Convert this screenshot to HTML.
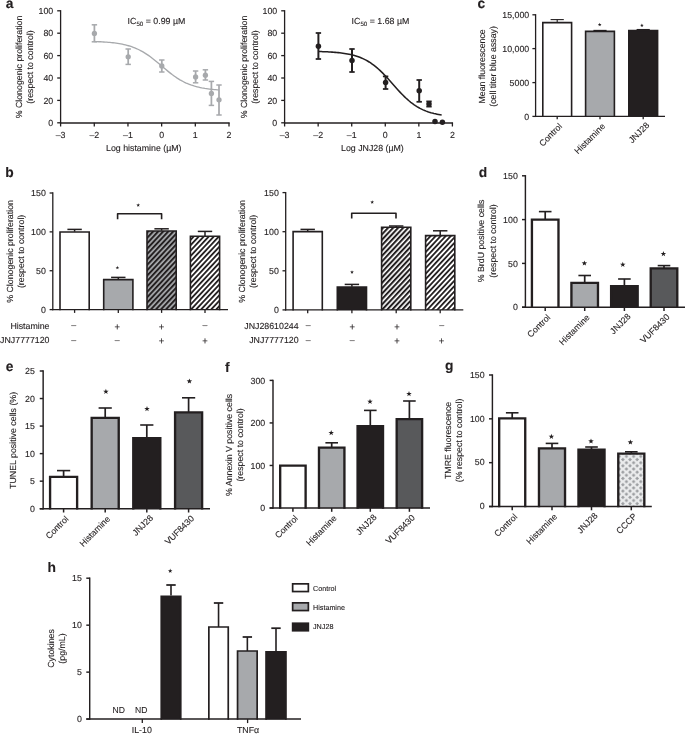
<!DOCTYPE html>
<html lang="en">
<head>
<meta charset="utf-8">
<title>Figure</title>
<style>
html,body{margin:0;padding:0;background:#fff;}
body{width:685px;height:734px;overflow:hidden;font-family:"Liberation Sans",sans-serif;}
svg{display:block;will-change:transform;}
svg text{font-family:"Liberation Sans",sans-serif;text-rendering:geometricPrecision;stroke:#231f20;stroke-width:0.12px;}
</style>
</head>
<body>
<svg width="685" height="734" viewBox="0 0 685 734">
<rect width="685" height="734" fill="#fff"/>
<defs>
<pattern id="hG" patternUnits="userSpaceOnUse" width="3.68" height="3.68" patternTransform="rotate(-47)"><rect width="3.68" height="3.68" fill="#a7a9ac"/><rect x="0" y="0" width="3.68" height="1.95" fill="#231f20"/></pattern>
<pattern id="hW" patternUnits="userSpaceOnUse" width="3.68" height="3.68" patternTransform="rotate(-47)"><rect width="3.68" height="3.68" fill="#fff"/><rect x="0" y="0" width="3.68" height="1.8" fill="#231f20"/></pattern>
<pattern id="hK" patternUnits="userSpaceOnUse" width="3.68" height="3.68" patternTransform="rotate(-47)"><rect width="3.68" height="3.68" fill="#fff"/><rect x="0" y="0" width="3.68" height="2.05" fill="#231f20"/></pattern>
<pattern id="dia" patternUnits="userSpaceOnUse" width="7.15" height="6.3" x="619.3" y="456.0"><rect width="7.15" height="6.3" fill="#ebeced"/><path d="M-1.85 0.00L0.00 -1.85L1.85 0.00L0.00 1.85ZM5.30 0.00L7.15 -1.85L9.00 0.00L7.15 1.85ZM-1.85 6.30L0.00 4.45L1.85 6.30L0.00 8.15ZM5.30 6.30L7.15 4.45L9.00 6.30L7.15 8.15ZM1.73 3.15L3.58 1.30L5.43 3.15L3.58 5.00Z" fill="#9c9ea1"/></pattern>
</defs>
<g transform="translate(0,0.4)">
<text x="5.80" y="7.60" font-size="13.8" text-anchor="start" font-weight="bold" fill="#231f20">a</text>
<line x1="60.60" y1="9.75" x2="60.60" y2="123.05" stroke="#231f20" stroke-width="1.3" stroke-linecap="butt"/>
<line x1="57.20" y1="122.40" x2="60.60" y2="122.40" stroke="#231f20" stroke-width="1.3" stroke-linecap="butt"/>
<text x="53.20" y="125.55" font-size="8.8" text-anchor="end" fill="#231f20">0</text>
<line x1="57.20" y1="100.00" x2="60.60" y2="100.00" stroke="#231f20" stroke-width="1.3" stroke-linecap="butt"/>
<text x="53.20" y="103.15" font-size="8.8" text-anchor="end" fill="#231f20">20</text>
<line x1="57.20" y1="77.60" x2="60.60" y2="77.60" stroke="#231f20" stroke-width="1.3" stroke-linecap="butt"/>
<text x="53.20" y="80.75" font-size="8.8" text-anchor="end" fill="#231f20">40</text>
<line x1="57.20" y1="55.20" x2="60.60" y2="55.20" stroke="#231f20" stroke-width="1.3" stroke-linecap="butt"/>
<text x="53.20" y="58.35" font-size="8.8" text-anchor="end" fill="#231f20">60</text>
<line x1="57.20" y1="32.80" x2="60.60" y2="32.80" stroke="#231f20" stroke-width="1.3" stroke-linecap="butt"/>
<text x="53.20" y="35.95" font-size="8.8" text-anchor="end" fill="#231f20">80</text>
<line x1="57.20" y1="10.40" x2="60.60" y2="10.40" stroke="#231f20" stroke-width="1.3" stroke-linecap="butt"/>
<text x="53.20" y="13.55" font-size="8.8" text-anchor="end" fill="#231f20">100</text>
<line x1="59.95" y1="122.55" x2="229.65" y2="122.55" stroke="#231f20" stroke-width="1.5" stroke-linecap="butt"/>
<line x1="60.60" y1="122.40" x2="60.60" y2="126.10" stroke="#231f20" stroke-width="1.3" stroke-linecap="butt"/>
<text x="60.60" y="137.15" font-size="8.8" text-anchor="middle" fill="#231f20">–3</text>
<line x1="94.28" y1="122.40" x2="94.28" y2="126.10" stroke="#231f20" stroke-width="1.3" stroke-linecap="butt"/>
<text x="94.28" y="137.15" font-size="8.8" text-anchor="middle" fill="#231f20">–2</text>
<line x1="127.96" y1="122.40" x2="127.96" y2="126.10" stroke="#231f20" stroke-width="1.3" stroke-linecap="butt"/>
<text x="127.96" y="137.15" font-size="8.8" text-anchor="middle" fill="#231f20">–1</text>
<line x1="161.64" y1="122.40" x2="161.64" y2="126.10" stroke="#231f20" stroke-width="1.3" stroke-linecap="butt"/>
<text x="161.64" y="137.15" font-size="8.8" text-anchor="middle" fill="#231f20">0</text>
<line x1="195.32" y1="122.40" x2="195.32" y2="126.10" stroke="#231f20" stroke-width="1.3" stroke-linecap="butt"/>
<text x="195.32" y="137.15" font-size="8.8" text-anchor="middle" fill="#231f20">1</text>
<line x1="229.00" y1="122.40" x2="229.00" y2="126.10" stroke="#231f20" stroke-width="1.3" stroke-linecap="butt"/>
<text x="229.00" y="137.15" font-size="8.8" text-anchor="middle" fill="#231f20">2</text>
<text x="22.00" y="66.60" font-size="8.8" text-anchor="middle" fill="#231f20" transform="rotate(-90 22.00 66.60)">% Clonogenic proliferation</text>
<text x="32.80" y="66.60" font-size="8.8" text-anchor="middle" fill="#231f20" transform="rotate(-90 32.80 66.60)">(respect to control)</text>
<text x="143.80" y="150.30" font-size="8.8" text-anchor="middle" fill="#231f20">Log histamine (µM)</text>
<text x="127.60" y="23.2" font-size="8.8" fill="#231f20">IC<tspan font-size="6.2" dy="2.3">50</tspan><tspan dy="-2.3"> = 0.99 µM</tspan></text>
<path d="M94.28 41.13L95.84 41.19L97.40 41.25L98.95 41.32L100.51 41.39L102.07 41.47L103.63 41.57L105.18 41.67L106.74 41.78L108.30 41.91L109.86 42.04L111.41 42.20L112.97 42.37L114.53 42.55L116.09 42.76L117.65 42.99L119.20 43.24L120.76 43.51L122.32 43.81L123.88 44.14L125.43 44.51L126.99 44.91L128.55 45.34L130.11 45.81L131.66 46.33L133.22 46.89L134.78 47.49L136.34 48.15L137.90 48.85L139.45 49.61L141.01 50.42L142.57 51.28L144.13 52.20L145.68 53.17L147.24 54.20L148.80 55.27L150.36 56.40L151.91 57.57L153.47 58.78L155.03 60.02L156.59 61.30L158.15 62.60L159.70 63.91L161.26 65.24L162.82 66.56L164.38 67.88L165.93 69.19L167.49 70.48L169.05 71.74L170.61 72.97L172.16 74.16L173.72 75.30L175.28 76.40L176.84 77.46L178.40 78.45L179.95 79.40L181.51 80.29L183.07 81.12L184.63 81.91L186.18 82.64L187.74 83.32L189.30 83.94L190.86 84.53L192.42 85.06L193.97 85.56L195.53 86.01L197.09 86.42L198.65 86.80L200.20 87.15L201.76 87.47L203.32 87.75L204.88 88.02L206.43 88.25L207.99 88.47L209.55 88.66L211.11 88.84L212.67 89.00L214.22 89.15L215.78 89.28L217.34 89.40L218.90 89.51" fill="none" stroke="#a7a9ac" stroke-width="1.35"/>
<line x1="94.40" y1="24.40" x2="94.40" y2="41.40" stroke="#a7a9ac" stroke-width="1.75" stroke-linecap="butt"/>
<line x1="91.70" y1="24.40" x2="97.10" y2="24.40" stroke="#a7a9ac" stroke-width="1.5" stroke-linecap="butt"/>
<line x1="91.70" y1="41.40" x2="97.10" y2="41.40" stroke="#a7a9ac" stroke-width="1.5" stroke-linecap="butt"/>
<circle cx="94.40" cy="33.00" r="2.65" fill="#a7a9ac"/>
<line x1="128.20" y1="48.60" x2="128.20" y2="64.00" stroke="#a7a9ac" stroke-width="1.75" stroke-linecap="butt"/>
<line x1="125.50" y1="48.60" x2="130.90" y2="48.60" stroke="#a7a9ac" stroke-width="1.5" stroke-linecap="butt"/>
<line x1="125.50" y1="64.00" x2="130.90" y2="64.00" stroke="#a7a9ac" stroke-width="1.5" stroke-linecap="butt"/>
<circle cx="128.20" cy="56.40" r="2.65" fill="#a7a9ac"/>
<line x1="161.80" y1="59.60" x2="161.80" y2="71.60" stroke="#a7a9ac" stroke-width="1.75" stroke-linecap="butt"/>
<line x1="159.10" y1="59.60" x2="164.50" y2="59.60" stroke="#a7a9ac" stroke-width="1.5" stroke-linecap="butt"/>
<line x1="159.10" y1="71.60" x2="164.50" y2="71.60" stroke="#a7a9ac" stroke-width="1.5" stroke-linecap="butt"/>
<circle cx="161.80" cy="65.60" r="2.65" fill="#a7a9ac"/>
<line x1="195.60" y1="70.60" x2="195.60" y2="82.40" stroke="#a7a9ac" stroke-width="1.75" stroke-linecap="butt"/>
<line x1="192.90" y1="70.60" x2="198.30" y2="70.60" stroke="#a7a9ac" stroke-width="1.5" stroke-linecap="butt"/>
<line x1="192.90" y1="82.40" x2="198.30" y2="82.40" stroke="#a7a9ac" stroke-width="1.5" stroke-linecap="butt"/>
<circle cx="195.60" cy="76.60" r="2.65" fill="#a7a9ac"/>
<line x1="205.40" y1="69.40" x2="205.40" y2="79.60" stroke="#a7a9ac" stroke-width="1.75" stroke-linecap="butt"/>
<line x1="202.70" y1="69.40" x2="208.10" y2="69.40" stroke="#a7a9ac" stroke-width="1.5" stroke-linecap="butt"/>
<line x1="202.70" y1="79.60" x2="208.10" y2="79.60" stroke="#a7a9ac" stroke-width="1.5" stroke-linecap="butt"/>
<circle cx="205.40" cy="74.80" r="2.65" fill="#a7a9ac"/>
<line x1="211.40" y1="81.00" x2="211.40" y2="105.00" stroke="#a7a9ac" stroke-width="1.75" stroke-linecap="butt"/>
<line x1="208.70" y1="81.00" x2="214.10" y2="81.00" stroke="#a7a9ac" stroke-width="1.5" stroke-linecap="butt"/>
<line x1="208.70" y1="105.00" x2="214.10" y2="105.00" stroke="#a7a9ac" stroke-width="1.5" stroke-linecap="butt"/>
<circle cx="211.40" cy="93.00" r="2.65" fill="#a7a9ac"/>
<line x1="219.00" y1="84.60" x2="219.00" y2="114.60" stroke="#a7a9ac" stroke-width="1.75" stroke-linecap="butt"/>
<line x1="216.30" y1="84.60" x2="221.70" y2="84.60" stroke="#a7a9ac" stroke-width="1.5" stroke-linecap="butt"/>
<line x1="216.30" y1="114.60" x2="221.70" y2="114.60" stroke="#a7a9ac" stroke-width="1.5" stroke-linecap="butt"/>
<circle cx="219.00" cy="99.40" r="2.65" fill="#a7a9ac"/>
<line x1="284.60" y1="9.75" x2="284.60" y2="123.05" stroke="#231f20" stroke-width="1.3" stroke-linecap="butt"/>
<line x1="281.20" y1="122.40" x2="284.60" y2="122.40" stroke="#231f20" stroke-width="1.3" stroke-linecap="butt"/>
<text x="277.20" y="125.55" font-size="8.8" text-anchor="end" fill="#231f20">0</text>
<line x1="281.20" y1="100.00" x2="284.60" y2="100.00" stroke="#231f20" stroke-width="1.3" stroke-linecap="butt"/>
<text x="277.20" y="103.15" font-size="8.8" text-anchor="end" fill="#231f20">20</text>
<line x1="281.20" y1="77.60" x2="284.60" y2="77.60" stroke="#231f20" stroke-width="1.3" stroke-linecap="butt"/>
<text x="277.20" y="80.75" font-size="8.8" text-anchor="end" fill="#231f20">40</text>
<line x1="281.20" y1="55.20" x2="284.60" y2="55.20" stroke="#231f20" stroke-width="1.3" stroke-linecap="butt"/>
<text x="277.20" y="58.35" font-size="8.8" text-anchor="end" fill="#231f20">60</text>
<line x1="281.20" y1="32.80" x2="284.60" y2="32.80" stroke="#231f20" stroke-width="1.3" stroke-linecap="butt"/>
<text x="277.20" y="35.95" font-size="8.8" text-anchor="end" fill="#231f20">80</text>
<line x1="281.20" y1="10.40" x2="284.60" y2="10.40" stroke="#231f20" stroke-width="1.3" stroke-linecap="butt"/>
<text x="277.20" y="13.55" font-size="8.8" text-anchor="end" fill="#231f20">100</text>
<line x1="283.95" y1="122.55" x2="453.05" y2="122.55" stroke="#231f20" stroke-width="1.5" stroke-linecap="butt"/>
<line x1="284.60" y1="122.40" x2="284.60" y2="126.10" stroke="#231f20" stroke-width="1.3" stroke-linecap="butt"/>
<text x="284.60" y="137.15" font-size="8.8" text-anchor="middle" fill="#231f20">–3</text>
<line x1="318.16" y1="122.40" x2="318.16" y2="126.10" stroke="#231f20" stroke-width="1.3" stroke-linecap="butt"/>
<text x="318.16" y="137.15" font-size="8.8" text-anchor="middle" fill="#231f20">–2</text>
<line x1="351.72" y1="122.40" x2="351.72" y2="126.10" stroke="#231f20" stroke-width="1.3" stroke-linecap="butt"/>
<text x="351.72" y="137.15" font-size="8.8" text-anchor="middle" fill="#231f20">–1</text>
<line x1="385.28" y1="122.40" x2="385.28" y2="126.10" stroke="#231f20" stroke-width="1.3" stroke-linecap="butt"/>
<text x="385.28" y="137.15" font-size="8.8" text-anchor="middle" fill="#231f20">0</text>
<line x1="418.84" y1="122.40" x2="418.84" y2="126.10" stroke="#231f20" stroke-width="1.3" stroke-linecap="butt"/>
<text x="418.84" y="137.15" font-size="8.8" text-anchor="middle" fill="#231f20">1</text>
<line x1="452.40" y1="122.40" x2="452.40" y2="126.10" stroke="#231f20" stroke-width="1.3" stroke-linecap="butt"/>
<text x="452.40" y="137.15" font-size="8.8" text-anchor="middle" fill="#231f20">2</text>
<text x="246.80" y="66.60" font-size="8.8" text-anchor="middle" fill="#231f20" transform="rotate(-90 246.80 66.60)">% Clonogenic proliferation</text>
<text x="257.60" y="66.60" font-size="8.8" text-anchor="middle" fill="#231f20" transform="rotate(-90 257.60 66.60)">(respect to control)</text>
<text x="372.40" y="150.30" font-size="8.8" text-anchor="middle" fill="#231f20">Log JNJ28 (µM)</text>
<text x="351.60" y="23.2" font-size="8.8" fill="#231f20">IC<tspan font-size="6.2" dy="2.3">50</tspan><tspan dy="-2.3"> = 1.68 µM</tspan></text>
<path d="M318.16 51.11L319.70 51.15L321.25 51.20L322.79 51.26L324.34 51.32L325.88 51.38L327.42 51.45L328.97 51.54L330.51 51.63L332.05 51.73L333.60 51.84L335.14 51.96L336.69 52.09L338.23 52.24L339.77 52.41L341.32 52.59L342.86 52.80L344.40 53.02L345.95 53.27L347.49 53.54L349.04 53.84L350.58 54.17L352.12 54.53L353.67 54.93L355.21 55.37L356.75 55.85L358.30 56.37L359.84 56.94L361.39 57.57L362.93 58.25L364.47 58.98L366.02 59.78L367.56 60.64L369.10 61.56L370.65 62.56L372.19 63.62L373.74 64.76L375.28 65.97L376.82 67.24L378.37 68.59L379.91 70.00L381.45 71.48L383.00 73.02L384.54 74.61L386.09 76.25L387.63 77.93L389.17 79.64L390.72 81.37L392.26 83.11L393.80 84.86L395.35 86.61L396.89 88.33L398.44 90.04L399.98 91.70L401.52 93.33L403.07 94.91L404.61 96.43L406.15 97.89L407.70 99.29L409.24 100.62L410.79 101.88L412.33 103.06L413.87 104.18L415.42 105.23L416.96 106.20L418.50 107.11L420.05 107.96L421.59 108.74L423.14 109.46L424.68 110.12L426.22 110.73L427.77 111.29L429.31 111.80L430.85 112.27L432.40 112.70L433.94 113.09L435.49 113.44L437.03 113.76L438.57 114.05L440.12 114.32L441.66 114.56" fill="none" stroke="#231f20" stroke-width="1.55"/>
<line x1="318.40" y1="32.60" x2="318.40" y2="58.60" stroke="#231f20" stroke-width="2.0" stroke-linecap="butt"/>
<line x1="315.70" y1="32.60" x2="321.10" y2="32.60" stroke="#231f20" stroke-width="1.75" stroke-linecap="butt"/>
<line x1="315.70" y1="58.60" x2="321.10" y2="58.60" stroke="#231f20" stroke-width="1.75" stroke-linecap="butt"/>
<circle cx="318.40" cy="45.80" r="2.75" fill="#231f20"/>
<line x1="352.00" y1="48.60" x2="352.00" y2="71.60" stroke="#231f20" stroke-width="2.0" stroke-linecap="butt"/>
<line x1="349.30" y1="48.60" x2="354.70" y2="48.60" stroke="#231f20" stroke-width="1.75" stroke-linecap="butt"/>
<line x1="349.30" y1="71.60" x2="354.70" y2="71.60" stroke="#231f20" stroke-width="1.75" stroke-linecap="butt"/>
<circle cx="352.00" cy="60.00" r="2.75" fill="#231f20"/>
<line x1="385.60" y1="76.00" x2="385.60" y2="88.60" stroke="#231f20" stroke-width="2.0" stroke-linecap="butt"/>
<line x1="382.90" y1="76.00" x2="388.30" y2="76.00" stroke="#231f20" stroke-width="1.75" stroke-linecap="butt"/>
<line x1="382.90" y1="88.60" x2="388.30" y2="88.60" stroke="#231f20" stroke-width="1.75" stroke-linecap="butt"/>
<circle cx="385.60" cy="82.00" r="2.75" fill="#231f20"/>
<line x1="419.20" y1="79.60" x2="419.20" y2="101.40" stroke="#231f20" stroke-width="2.0" stroke-linecap="butt"/>
<line x1="416.50" y1="79.60" x2="421.90" y2="79.60" stroke="#231f20" stroke-width="1.75" stroke-linecap="butt"/>
<line x1="416.50" y1="101.40" x2="421.90" y2="101.40" stroke="#231f20" stroke-width="1.75" stroke-linecap="butt"/>
<circle cx="419.20" cy="90.40" r="2.75" fill="#231f20"/>
<line x1="429.00" y1="101.00" x2="429.00" y2="106.20" stroke="#231f20" stroke-width="2.0" stroke-linecap="butt"/>
<line x1="426.30" y1="101.00" x2="431.70" y2="101.00" stroke="#231f20" stroke-width="1.75" stroke-linecap="butt"/>
<line x1="426.30" y1="106.20" x2="431.70" y2="106.20" stroke="#231f20" stroke-width="1.75" stroke-linecap="butt"/>
<circle cx="429.00" cy="103.60" r="2.75" fill="#231f20"/>
<circle cx="435.00" cy="121.00" r="2.75" fill="#231f20"/>
<circle cx="442.40" cy="121.80" r="2.75" fill="#231f20"/>
</g>
<g transform="translate(0,0.4)">
<text x="477.60" y="7.60" font-size="13.8" text-anchor="start" font-weight="bold" fill="#231f20">c</text>
<line x1="535.60" y1="13.75" x2="535.60" y2="116.65" stroke="#231f20" stroke-width="1.3" stroke-linecap="butt"/>
<line x1="532.40" y1="116.00" x2="535.60" y2="116.00" stroke="#231f20" stroke-width="1.3" stroke-linecap="butt"/>
<text x="529.20" y="119.15" font-size="8.8" text-anchor="end" fill="#231f20">0</text>
<line x1="532.40" y1="82.20" x2="535.60" y2="82.20" stroke="#231f20" stroke-width="1.3" stroke-linecap="butt"/>
<text x="529.20" y="85.35" font-size="8.8" text-anchor="end" fill="#231f20">5000</text>
<line x1="532.40" y1="48.20" x2="535.60" y2="48.20" stroke="#231f20" stroke-width="1.3" stroke-linecap="butt"/>
<text x="529.20" y="51.35" font-size="8.8" text-anchor="end" fill="#231f20">10,000</text>
<line x1="532.40" y1="14.40" x2="535.60" y2="14.40" stroke="#231f20" stroke-width="1.3" stroke-linecap="butt"/>
<text x="529.20" y="17.55" font-size="8.8" text-anchor="end" fill="#231f20">15,000</text>
<text x="484.60" y="66.00" font-size="8.8" text-anchor="middle" fill="#231f20" transform="rotate(-90 484.60 66.00)">Mean fluorescence</text>
<text x="495.80" y="66.00" font-size="8.8" text-anchor="middle" fill="#231f20" transform="rotate(-90 495.80 66.00)">(cell titer blue assay)</text>
<line x1="557.20" y1="19.20" x2="557.20" y2="21.90" stroke="#231f20" stroke-width="1.1" stroke-linecap="butt"/>
<line x1="550.60" y1="19.20" x2="563.80" y2="19.20" stroke="#231f20" stroke-width="1.1" stroke-linecap="butt"/>
<line x1="593.40" y1="30.10" x2="606.60" y2="30.10" stroke="#231f20" stroke-width="1.3" stroke-linecap="butt"/>
<line x1="636.60" y1="29.20" x2="649.80" y2="29.20" stroke="#231f20" stroke-width="1.3" stroke-linecap="butt"/>
<rect x="542.80" y="22.20" width="28.80" height="93.95" fill="#fff"/>
<path d="M542.80 116.65V22.20H571.60V116.65" fill="none" stroke="#231f20" stroke-width="1.6" stroke-linejoin="miter"/>
<line x1="557.20" y1="116.00" x2="557.20" y2="118.80" stroke="#231f20" stroke-width="1.3" stroke-linecap="butt"/>
<rect x="585.60" y="31.00" width="28.80" height="85.15" fill="#a7a9ac"/>
<path d="M585.60 116.65V31.00H614.40V116.65" fill="none" stroke="#231f20" stroke-width="1.6" stroke-linejoin="miter"/>
<line x1="600.00" y1="116.00" x2="600.00" y2="118.80" stroke="#231f20" stroke-width="1.3" stroke-linecap="butt"/>
<rect x="628.80" y="30.20" width="28.80" height="85.95" fill="#231f20"/>
<path d="M628.80 116.65V30.20H657.60V116.65" fill="none" stroke="#231f20" stroke-width="1.6" stroke-linejoin="miter"/>
<line x1="643.20" y1="116.00" x2="643.20" y2="118.80" stroke="#231f20" stroke-width="1.3" stroke-linecap="butt"/>
<line x1="534.95" y1="116.00" x2="665.00" y2="116.00" stroke="#231f20" stroke-width="1.3" stroke-linecap="butt"/>
<polygon points="599.70,22.38 600.15,23.67 601.51,23.69 600.42,24.52 600.82,25.82 599.70,25.04 598.58,25.82 598.98,24.52 597.89,23.69 599.25,23.67" fill="#231f20"/>
<polygon points="641.90,23.18 642.35,24.47 643.71,24.49 642.62,25.32 643.02,26.62 641.90,25.84 640.78,26.62 641.18,25.32 640.09,24.49 641.45,24.47" fill="#231f20"/>
<text x="562.70" y="126.50" font-size="8.8" text-anchor="end" fill="#231f20" transform="rotate(-45 562.70 126.50)">Control</text>
<text x="605.70" y="126.50" font-size="8.8" text-anchor="end" fill="#231f20" transform="rotate(-45 605.70 126.50)">Histamine</text>
<text x="649.90" y="125.50" font-size="8.8" text-anchor="end" fill="#231f20" transform="rotate(-45 649.90 125.50)">JNJ28</text>
</g>
<g transform="translate(0,0.4)">
<text x="5.20" y="176.20" font-size="13.8" text-anchor="start" font-weight="bold" fill="#231f20">b</text>
<line x1="52.80" y1="191.95" x2="52.80" y2="309.85" stroke="#231f20" stroke-width="1.3" stroke-linecap="butt"/>
<line x1="49.60" y1="309.20" x2="52.80" y2="309.20" stroke="#231f20" stroke-width="1.3" stroke-linecap="butt"/>
<text x="45.80" y="312.35" font-size="8.8" text-anchor="end" fill="#231f20">0</text>
<line x1="49.60" y1="270.33" x2="52.80" y2="270.33" stroke="#231f20" stroke-width="1.3" stroke-linecap="butt"/>
<text x="45.80" y="273.48" font-size="8.8" text-anchor="end" fill="#231f20">50</text>
<line x1="49.60" y1="231.47" x2="52.80" y2="231.47" stroke="#231f20" stroke-width="1.3" stroke-linecap="butt"/>
<text x="45.80" y="234.62" font-size="8.8" text-anchor="end" fill="#231f20">100</text>
<line x1="49.60" y1="192.60" x2="52.80" y2="192.60" stroke="#231f20" stroke-width="1.3" stroke-linecap="butt"/>
<text x="45.80" y="195.75" font-size="8.8" text-anchor="end" fill="#231f20">150</text>
<text x="12.80" y="251.00" font-size="8.8" text-anchor="middle" fill="#231f20" transform="rotate(-90 12.80 251.00)">% Clonogenic proliferation</text>
<text x="23.50" y="251.00" font-size="8.8" text-anchor="middle" fill="#231f20" transform="rotate(-90 23.50 251.00)">(respect to control)</text>
<line x1="74.60" y1="229.00" x2="74.60" y2="231.30" stroke="#231f20" stroke-width="1.5" stroke-linecap="butt"/>
<line x1="67.40" y1="229.00" x2="81.80" y2="229.00" stroke="#231f20" stroke-width="1.5" stroke-linecap="butt"/>
<rect x="60.00" y="231.60" width="29.20" height="77.75" fill="#fff"/>
<path d="M60.00 309.85V231.60H89.20V309.85" fill="none" stroke="#231f20" stroke-width="1.6" stroke-linejoin="miter"/>
<line x1="74.60" y1="309.20" x2="74.60" y2="312.50" stroke="#231f20" stroke-width="1.3" stroke-linecap="butt"/>
<line x1="118.30" y1="277.00" x2="118.30" y2="278.90" stroke="#231f20" stroke-width="1.5" stroke-linecap="butt"/>
<line x1="111.10" y1="277.00" x2="125.50" y2="277.00" stroke="#231f20" stroke-width="1.5" stroke-linecap="butt"/>
<rect x="103.70" y="279.20" width="29.20" height="30.15" fill="#a7a9ac"/>
<path d="M103.70 309.85V279.20H132.90V309.85" fill="none" stroke="#231f20" stroke-width="1.6" stroke-linejoin="miter"/>
<line x1="118.30" y1="309.20" x2="118.30" y2="312.50" stroke="#231f20" stroke-width="1.3" stroke-linecap="butt"/>
<line x1="161.60" y1="228.40" x2="161.60" y2="230.30" stroke="#231f20" stroke-width="1.5" stroke-linecap="butt"/>
<line x1="154.40" y1="228.40" x2="168.80" y2="228.40" stroke="#231f20" stroke-width="1.5" stroke-linecap="butt"/>
<rect x="147.00" y="230.60" width="29.20" height="78.75" fill="url(#hG)"/>
<path d="M147.00 309.85V230.60H176.20V309.85" fill="none" stroke="#231f20" stroke-width="1.6" stroke-linejoin="miter"/>
<line x1="161.60" y1="309.20" x2="161.60" y2="312.50" stroke="#231f20" stroke-width="1.3" stroke-linecap="butt"/>
<line x1="205.00" y1="231.00" x2="205.00" y2="235.50" stroke="#231f20" stroke-width="1.5" stroke-linecap="butt"/>
<line x1="197.80" y1="231.00" x2="212.20" y2="231.00" stroke="#231f20" stroke-width="1.5" stroke-linecap="butt"/>
<rect x="190.40" y="235.80" width="29.20" height="73.55" fill="url(#hW)"/>
<path d="M190.40 309.85V235.80H219.60V309.85" fill="none" stroke="#231f20" stroke-width="1.6" stroke-linejoin="miter"/>
<line x1="205.00" y1="309.20" x2="205.00" y2="312.50" stroke="#231f20" stroke-width="1.3" stroke-linecap="butt"/>
<line x1="52.15" y1="309.20" x2="228.00" y2="309.20" stroke="#231f20" stroke-width="1.3" stroke-linecap="butt"/>
<path d="M117.6 218.8V213.3H161.6V218.8" fill="none" stroke="#231f20" stroke-width="1.6" stroke-linejoin="round"/>
<polygon points="138.20,202.84 138.66,204.15 140.05,204.18 138.94,205.03 139.35,206.36 138.20,205.57 137.05,206.36 137.46,205.03 136.35,204.18 137.74,204.15" fill="#231f20"/>
<polygon points="117.40,265.44 117.86,266.75 119.25,266.78 118.14,267.63 118.55,268.96 117.40,268.17 116.25,268.96 116.66,267.63 115.55,266.78 116.94,266.75" fill="#231f20"/>
<text x="49.50" y="328.30" font-size="8.8" text-anchor="end" fill="#231f20">Histamine</text>
<text x="49.50" y="342.80" font-size="8.8" text-anchor="end" fill="#231f20">JNJ7777120</text>
<text x="73.60" y="328.00" font-size="8.8" text-anchor="middle" fill="#231f20">–</text>
<text x="73.60" y="342.30" font-size="8.8" text-anchor="middle" fill="#231f20">–</text>
<text x="117.30" y="329.30" font-size="9.4" text-anchor="middle" fill="#231f20">+</text>
<text x="117.30" y="342.30" font-size="8.8" text-anchor="middle" fill="#231f20">–</text>
<text x="161.50" y="329.30" font-size="9.4" text-anchor="middle" fill="#231f20">+</text>
<text x="161.50" y="343.60" font-size="9.4" text-anchor="middle" fill="#231f20">+</text>
<text x="205.00" y="328.00" font-size="8.8" text-anchor="middle" fill="#231f20">–</text>
<text x="205.00" y="343.60" font-size="9.4" text-anchor="middle" fill="#231f20">+</text>
<line x1="285.70" y1="191.55" x2="285.70" y2="310.15" stroke="#231f20" stroke-width="1.3" stroke-linecap="butt"/>
<line x1="282.50" y1="309.50" x2="285.70" y2="309.50" stroke="#231f20" stroke-width="1.3" stroke-linecap="butt"/>
<text x="278.80" y="312.65" font-size="8.8" text-anchor="end" fill="#231f20">0</text>
<line x1="282.50" y1="270.40" x2="285.70" y2="270.40" stroke="#231f20" stroke-width="1.3" stroke-linecap="butt"/>
<text x="278.80" y="273.55" font-size="8.8" text-anchor="end" fill="#231f20">50</text>
<line x1="282.50" y1="231.30" x2="285.70" y2="231.30" stroke="#231f20" stroke-width="1.3" stroke-linecap="butt"/>
<text x="278.80" y="234.45" font-size="8.8" text-anchor="end" fill="#231f20">100</text>
<line x1="282.50" y1="192.20" x2="285.70" y2="192.20" stroke="#231f20" stroke-width="1.3" stroke-linecap="butt"/>
<text x="278.80" y="195.35" font-size="8.8" text-anchor="end" fill="#231f20">150</text>
<text x="245.00" y="251.00" font-size="8.8" text-anchor="middle" fill="#231f20" transform="rotate(-90 245.00 251.00)">% Clonogenic proliferation</text>
<text x="256.40" y="251.00" font-size="8.8" text-anchor="middle" fill="#231f20" transform="rotate(-90 256.40 251.00)">(respect to control)</text>
<line x1="307.70" y1="229.00" x2="307.70" y2="230.90" stroke="#231f20" stroke-width="1.5" stroke-linecap="butt"/>
<line x1="300.50" y1="229.00" x2="314.90" y2="229.00" stroke="#231f20" stroke-width="1.5" stroke-linecap="butt"/>
<rect x="293.10" y="231.20" width="29.20" height="78.45" fill="#fff"/>
<path d="M293.10 310.15V231.20H322.30V310.15" fill="none" stroke="#231f20" stroke-width="1.6" stroke-linejoin="miter"/>
<line x1="307.70" y1="309.50" x2="307.70" y2="312.80" stroke="#231f20" stroke-width="1.3" stroke-linecap="butt"/>
<line x1="351.90" y1="284.00" x2="351.90" y2="286.30" stroke="#231f20" stroke-width="1.5" stroke-linecap="butt"/>
<line x1="344.70" y1="284.00" x2="359.10" y2="284.00" stroke="#231f20" stroke-width="1.5" stroke-linecap="butt"/>
<rect x="337.30" y="286.60" width="29.20" height="23.05" fill="#231f20"/>
<path d="M337.30 310.15V286.60H366.50V310.15" fill="none" stroke="#231f20" stroke-width="1.6" stroke-linejoin="miter"/>
<line x1="351.90" y1="309.50" x2="351.90" y2="312.80" stroke="#231f20" stroke-width="1.3" stroke-linecap="butt"/>
<line x1="396.20" y1="225.60" x2="396.20" y2="226.50" stroke="#231f20" stroke-width="1.5" stroke-linecap="butt"/>
<line x1="389.00" y1="225.60" x2="403.40" y2="225.60" stroke="#231f20" stroke-width="1.5" stroke-linecap="butt"/>
<rect x="381.60" y="226.80" width="29.20" height="82.85" fill="url(#hK)"/>
<path d="M381.60 310.15V226.80H410.80V310.15" fill="none" stroke="#231f20" stroke-width="1.6" stroke-linejoin="miter"/>
<line x1="396.20" y1="309.50" x2="396.20" y2="312.80" stroke="#231f20" stroke-width="1.3" stroke-linecap="butt"/>
<line x1="440.20" y1="230.40" x2="440.20" y2="234.90" stroke="#231f20" stroke-width="1.5" stroke-linecap="butt"/>
<line x1="433.00" y1="230.40" x2="447.40" y2="230.40" stroke="#231f20" stroke-width="1.5" stroke-linecap="butt"/>
<rect x="425.60" y="235.20" width="29.20" height="74.45" fill="url(#hW)"/>
<path d="M425.60 310.15V235.20H454.80V310.15" fill="none" stroke="#231f20" stroke-width="1.6" stroke-linejoin="miter"/>
<line x1="440.20" y1="309.50" x2="440.20" y2="312.80" stroke="#231f20" stroke-width="1.3" stroke-linecap="butt"/>
<line x1="285.05" y1="309.50" x2="463.30" y2="309.50" stroke="#231f20" stroke-width="1.3" stroke-linecap="butt"/>
<path d="M351.7 218.2V212.8H396.0V218.2" fill="none" stroke="#231f20" stroke-width="1.6" stroke-linejoin="round"/>
<polygon points="372.20,199.84 372.66,201.15 374.05,201.18 372.94,202.03 373.35,203.36 372.20,202.57 371.05,203.36 371.46,202.03 370.35,201.18 371.74,201.15" fill="#231f20"/>
<polygon points="352.00,269.84 352.46,271.15 353.85,271.18 352.74,272.03 353.15,273.36 352.00,272.57 350.85,273.36 351.26,272.03 350.15,271.18 351.54,271.15" fill="#231f20"/>
<text x="298.60" y="328.60" font-size="8.8" text-anchor="end" fill="#231f20">JNJ28610244</text>
<text x="298.60" y="342.60" font-size="8.8" text-anchor="end" fill="#231f20">JNJ7777120</text>
<text x="308.10" y="328.00" font-size="8.8" text-anchor="middle" fill="#231f20">–</text>
<text x="308.10" y="342.30" font-size="8.8" text-anchor="middle" fill="#231f20">–</text>
<text x="352.30" y="329.30" font-size="9.4" text-anchor="middle" fill="#231f20">+</text>
<text x="352.30" y="342.30" font-size="8.8" text-anchor="middle" fill="#231f20">–</text>
<text x="396.90" y="329.30" font-size="9.4" text-anchor="middle" fill="#231f20">+</text>
<text x="396.90" y="343.60" font-size="9.4" text-anchor="middle" fill="#231f20">+</text>
<text x="441.60" y="328.00" font-size="8.8" text-anchor="middle" fill="#231f20">–</text>
<text x="441.60" y="343.60" font-size="9.4" text-anchor="middle" fill="#231f20">+</text>
</g>
<g transform="translate(0,0.0)">
<text x="478.80" y="176.60" font-size="13.8" text-anchor="start" font-weight="bold" fill="#231f20">d</text>
<line x1="525.40" y1="175.08" x2="525.40" y2="307.93" stroke="#231f20" stroke-width="1.45" stroke-linecap="butt"/>
<line x1="522.00" y1="307.20" x2="525.40" y2="307.20" stroke="#231f20" stroke-width="1.45" stroke-linecap="butt"/>
<text x="517.80" y="310.35" font-size="8.8" text-anchor="end" fill="#231f20">0</text>
<line x1="522.00" y1="263.40" x2="525.40" y2="263.40" stroke="#231f20" stroke-width="1.45" stroke-linecap="butt"/>
<text x="517.80" y="266.55" font-size="8.8" text-anchor="end" fill="#231f20">50</text>
<line x1="522.00" y1="219.60" x2="525.40" y2="219.60" stroke="#231f20" stroke-width="1.45" stroke-linecap="butt"/>
<text x="517.80" y="222.75" font-size="8.8" text-anchor="end" fill="#231f20">100</text>
<line x1="522.00" y1="175.80" x2="525.40" y2="175.80" stroke="#231f20" stroke-width="1.45" stroke-linecap="butt"/>
<text x="517.80" y="178.95" font-size="8.8" text-anchor="end" fill="#231f20">150</text>
<text x="484.30" y="241.00" font-size="8.8" text-anchor="middle" fill="#231f20" transform="rotate(-90 484.30 241.00)">% BrdU positive cells</text>
<text x="495.60" y="241.00" font-size="8.8" text-anchor="middle" fill="#231f20" transform="rotate(-90 495.60 241.00)">(respect to control)</text>
<line x1="545.20" y1="211.60" x2="545.20" y2="220.10" stroke="#231f20" stroke-width="1.7" stroke-linecap="butt"/>
<line x1="538.90" y1="211.60" x2="551.50" y2="211.60" stroke="#231f20" stroke-width="1.6" stroke-linecap="butt"/>
<rect x="531.92" y="219.60" width="26.55" height="87.85" fill="#fff"/>
<path d="M531.92 307.95V219.60H558.48V307.95" fill="none" stroke="#231f20" stroke-width="2.35" stroke-linejoin="miter"/>
<line x1="545.20" y1="307.20" x2="545.20" y2="311.00" stroke="#231f20" stroke-width="1.5" stroke-linecap="butt"/>
<line x1="584.70" y1="275.50" x2="584.70" y2="283.30" stroke="#231f20" stroke-width="1.7" stroke-linecap="butt"/>
<line x1="578.40" y1="275.50" x2="591.00" y2="275.50" stroke="#231f20" stroke-width="1.6" stroke-linecap="butt"/>
<rect x="571.42" y="282.80" width="26.55" height="24.65" fill="#a7a9ac"/>
<path d="M571.42 307.95V282.80H597.98V307.95" fill="none" stroke="#231f20" stroke-width="2.35" stroke-linejoin="miter"/>
<line x1="584.70" y1="307.20" x2="584.70" y2="311.00" stroke="#231f20" stroke-width="1.5" stroke-linecap="butt"/>
<line x1="624.40" y1="279.00" x2="624.40" y2="285.50" stroke="#231f20" stroke-width="1.7" stroke-linecap="butt"/>
<line x1="618.10" y1="279.00" x2="630.70" y2="279.00" stroke="#231f20" stroke-width="1.6" stroke-linecap="butt"/>
<rect x="611.12" y="286.18" width="26.55" height="21.27" fill="#231f20"/>
<path d="M611.12 307.95V286.18H637.68V307.95" fill="none" stroke="#231f20" stroke-width="2.35" stroke-linejoin="miter"/>
<line x1="624.40" y1="307.20" x2="624.40" y2="311.00" stroke="#231f20" stroke-width="1.5" stroke-linecap="butt"/>
<line x1="664.00" y1="265.60" x2="664.00" y2="268.90" stroke="#231f20" stroke-width="1.7" stroke-linecap="butt"/>
<line x1="657.70" y1="265.60" x2="670.30" y2="265.60" stroke="#231f20" stroke-width="1.6" stroke-linecap="butt"/>
<rect x="650.72" y="268.40" width="26.55" height="39.05" fill="#58595b"/>
<path d="M650.72 307.95V268.40H677.28V307.95" fill="none" stroke="#231f20" stroke-width="2.35" stroke-linejoin="miter"/>
<line x1="664.00" y1="307.20" x2="664.00" y2="311.00" stroke="#231f20" stroke-width="1.5" stroke-linecap="butt"/>
<line x1="522.00" y1="307.20" x2="685.00" y2="307.20" stroke="#231f20" stroke-width="1.5" stroke-linecap="butt"/>
<text x="550.80" y="318.00" font-size="8.8" text-anchor="end" fill="#231f20" transform="rotate(-45 550.80 318.00)">Control</text>
<text x="590.30" y="318.00" font-size="8.8" text-anchor="end" fill="#231f20" transform="rotate(-45 590.30 318.00)">Histamine</text>
<text x="631.20" y="317.00" font-size="8.8" text-anchor="end" fill="#231f20" transform="rotate(-45 631.20 317.00)">JNJ28</text>
<text x="670.10" y="317.50" font-size="8.8" text-anchor="end" fill="#231f20" transform="rotate(-45 670.10 317.50)">VUF8430</text>
</g>
<polygon points="584.40,260.38 585.08,262.34 587.16,262.38 585.50,263.63 586.10,265.62 584.40,264.44 582.70,265.62 583.30,263.63 581.64,262.38 583.72,262.34" fill="#231f20"/>
<polygon points="622.80,261.78 623.48,263.74 625.56,263.78 623.90,265.03 624.50,267.02 622.80,265.84 621.10,267.02 621.70,265.03 620.04,263.78 622.12,263.74" fill="#231f20"/>
<polygon points="663.40,250.98 664.08,252.94 666.16,252.98 664.50,254.23 665.10,256.22 663.40,255.04 661.70,256.22 662.30,254.23 660.64,252.98 662.72,252.94" fill="#231f20"/>
<g transform="translate(0,0.4)">
<text x="5.80" y="371.00" font-size="13.8" text-anchor="start" font-weight="bold" fill="#231f20">e</text>
<line x1="43.15" y1="369.88" x2="43.15" y2="509.03" stroke="#231f20" stroke-width="1.45" stroke-linecap="butt"/>
<line x1="39.75" y1="508.30" x2="43.15" y2="508.30" stroke="#231f20" stroke-width="1.45" stroke-linecap="butt"/>
<text x="34.80" y="511.45" font-size="8.8" text-anchor="end" fill="#231f20">0</text>
<line x1="39.75" y1="480.76" x2="43.15" y2="480.76" stroke="#231f20" stroke-width="1.45" stroke-linecap="butt"/>
<text x="34.80" y="483.91" font-size="8.8" text-anchor="end" fill="#231f20">5</text>
<line x1="39.75" y1="453.22" x2="43.15" y2="453.22" stroke="#231f20" stroke-width="1.45" stroke-linecap="butt"/>
<text x="34.80" y="456.37" font-size="8.8" text-anchor="end" fill="#231f20">10</text>
<line x1="39.75" y1="425.68" x2="43.15" y2="425.68" stroke="#231f20" stroke-width="1.45" stroke-linecap="butt"/>
<text x="34.80" y="428.83" font-size="8.8" text-anchor="end" fill="#231f20">15</text>
<line x1="39.75" y1="398.14" x2="43.15" y2="398.14" stroke="#231f20" stroke-width="1.45" stroke-linecap="butt"/>
<text x="34.80" y="401.29" font-size="8.8" text-anchor="end" fill="#231f20">20</text>
<line x1="39.75" y1="370.60" x2="43.15" y2="370.60" stroke="#231f20" stroke-width="1.45" stroke-linecap="butt"/>
<text x="34.80" y="373.75" font-size="8.8" text-anchor="end" fill="#231f20">25</text>
<text x="15.60" y="440.00" font-size="8.8" text-anchor="middle" fill="#231f20" transform="rotate(-90 15.60 440.00)">TUNEL positive cells (%)</text>
<line x1="63.60" y1="470.20" x2="63.60" y2="476.90" stroke="#231f20" stroke-width="1.7" stroke-linecap="butt"/>
<line x1="57.00" y1="470.20" x2="70.20" y2="470.20" stroke="#231f20" stroke-width="1.6" stroke-linecap="butt"/>
<rect x="50.08" y="476.40" width="27.05" height="32.15" fill="#fff"/>
<path d="M50.08 509.05V476.40H77.12V509.05" fill="none" stroke="#231f20" stroke-width="2.35" stroke-linejoin="miter"/>
<line x1="63.60" y1="508.30" x2="63.60" y2="512.10" stroke="#231f20" stroke-width="1.5" stroke-linecap="butt"/>
<line x1="105.20" y1="407.60" x2="105.20" y2="418.00" stroke="#231f20" stroke-width="1.7" stroke-linecap="butt"/>
<line x1="98.60" y1="407.60" x2="111.80" y2="407.60" stroke="#231f20" stroke-width="1.6" stroke-linecap="butt"/>
<rect x="91.67" y="417.50" width="27.05" height="91.05" fill="#a7a9ac"/>
<path d="M91.67 509.05V417.50H118.73V509.05" fill="none" stroke="#231f20" stroke-width="2.35" stroke-linejoin="miter"/>
<line x1="105.20" y1="508.30" x2="105.20" y2="512.10" stroke="#231f20" stroke-width="1.5" stroke-linecap="butt"/>
<line x1="146.80" y1="424.60" x2="146.80" y2="437.10" stroke="#231f20" stroke-width="1.7" stroke-linecap="butt"/>
<line x1="140.20" y1="424.60" x2="153.40" y2="424.60" stroke="#231f20" stroke-width="1.6" stroke-linecap="butt"/>
<rect x="133.28" y="437.78" width="27.05" height="70.77" fill="#231f20"/>
<path d="M133.28 509.05V437.78H160.32V509.05" fill="none" stroke="#231f20" stroke-width="2.35" stroke-linejoin="miter"/>
<line x1="146.80" y1="508.30" x2="146.80" y2="512.10" stroke="#231f20" stroke-width="1.5" stroke-linecap="butt"/>
<line x1="188.60" y1="397.40" x2="188.60" y2="412.50" stroke="#231f20" stroke-width="1.7" stroke-linecap="butt"/>
<line x1="182.00" y1="397.40" x2="195.20" y2="397.40" stroke="#231f20" stroke-width="1.6" stroke-linecap="butt"/>
<rect x="175.08" y="412.00" width="27.05" height="96.55" fill="#58595b"/>
<path d="M175.08 509.05V412.00H202.12V509.05" fill="none" stroke="#231f20" stroke-width="2.35" stroke-linejoin="miter"/>
<line x1="188.60" y1="508.30" x2="188.60" y2="512.10" stroke="#231f20" stroke-width="1.5" stroke-linecap="butt"/>
<line x1="39.75" y1="508.30" x2="210.00" y2="508.30" stroke="#231f20" stroke-width="1.5" stroke-linecap="butt"/>
<text x="69.20" y="519.10" font-size="8.8" text-anchor="end" fill="#231f20" transform="rotate(-45 69.20 519.10)">Control</text>
<text x="110.80" y="519.10" font-size="8.8" text-anchor="end" fill="#231f20" transform="rotate(-45 110.80 519.10)">Histamine</text>
<text x="153.60" y="518.10" font-size="8.8" text-anchor="end" fill="#231f20" transform="rotate(-45 153.60 518.10)">JNJ28</text>
<text x="194.70" y="518.60" font-size="8.8" text-anchor="end" fill="#231f20" transform="rotate(-45 194.70 518.60)">VUF8430</text>
</g>
<polygon points="105.90,388.78 106.58,390.74 108.66,390.78 107.00,392.03 107.60,394.02 105.90,392.84 104.20,394.02 104.80,392.03 103.14,390.78 105.22,390.74" fill="#231f20"/>
<polygon points="147.00,405.98 147.68,407.94 149.76,407.98 148.10,409.23 148.70,411.22 147.00,410.04 145.30,411.22 145.90,409.23 144.24,407.98 146.32,407.94" fill="#231f20"/>
<polygon points="189.40,378.38 190.08,380.34 192.16,380.38 190.50,381.63 191.10,383.62 189.40,382.44 187.70,383.62 188.30,381.63 186.64,380.38 188.72,380.34" fill="#231f20"/>
<g transform="translate(0,0.4)">
<text x="225.00" y="371.40" font-size="13.8" text-anchor="start" font-weight="bold" fill="#231f20">f</text>
<line x1="273.00" y1="379.27" x2="273.00" y2="508.33" stroke="#231f20" stroke-width="1.45" stroke-linecap="butt"/>
<line x1="269.60" y1="507.60" x2="273.00" y2="507.60" stroke="#231f20" stroke-width="1.45" stroke-linecap="butt"/>
<text x="265.20" y="510.75" font-size="8.8" text-anchor="end" fill="#231f20">0</text>
<line x1="269.60" y1="465.07" x2="273.00" y2="465.07" stroke="#231f20" stroke-width="1.45" stroke-linecap="butt"/>
<text x="265.20" y="468.22" font-size="8.8" text-anchor="end" fill="#231f20">100</text>
<line x1="269.60" y1="422.53" x2="273.00" y2="422.53" stroke="#231f20" stroke-width="1.45" stroke-linecap="butt"/>
<text x="265.20" y="425.68" font-size="8.8" text-anchor="end" fill="#231f20">200</text>
<line x1="269.60" y1="380.00" x2="273.00" y2="380.00" stroke="#231f20" stroke-width="1.45" stroke-linecap="butt"/>
<text x="265.20" y="383.15" font-size="8.8" text-anchor="end" fill="#231f20">300</text>
<text x="231.80" y="444.50" font-size="8.8" text-anchor="middle" fill="#231f20" transform="rotate(-90 231.80 444.50)">% Annexin V positive cells</text>
<text x="242.60" y="444.50" font-size="8.8" text-anchor="middle" fill="#231f20" transform="rotate(-90 242.60 444.50)">(respect to control)</text>
<rect x="280.18" y="465.20" width="25.45" height="42.65" fill="#fff"/>
<path d="M280.18 508.35V465.20H305.62V508.35" fill="none" stroke="#231f20" stroke-width="2.35" stroke-linejoin="miter"/>
<line x1="292.90" y1="507.60" x2="292.90" y2="511.40" stroke="#231f20" stroke-width="1.5" stroke-linecap="butt"/>
<line x1="331.70" y1="442.40" x2="331.70" y2="447.70" stroke="#231f20" stroke-width="1.7" stroke-linecap="butt"/>
<line x1="325.40" y1="442.40" x2="338.00" y2="442.40" stroke="#231f20" stroke-width="1.6" stroke-linecap="butt"/>
<rect x="318.98" y="447.20" width="25.45" height="60.65" fill="#a7a9ac"/>
<path d="M318.98 508.35V447.20H344.42V508.35" fill="none" stroke="#231f20" stroke-width="2.35" stroke-linejoin="miter"/>
<line x1="331.70" y1="507.60" x2="331.70" y2="511.40" stroke="#231f20" stroke-width="1.5" stroke-linecap="butt"/>
<line x1="370.30" y1="410.00" x2="370.30" y2="425.10" stroke="#231f20" stroke-width="1.7" stroke-linecap="butt"/>
<line x1="364.00" y1="410.00" x2="376.60" y2="410.00" stroke="#231f20" stroke-width="1.6" stroke-linecap="butt"/>
<rect x="357.58" y="425.78" width="25.45" height="82.08" fill="#231f20"/>
<path d="M357.58 508.35V425.78H383.02V508.35" fill="none" stroke="#231f20" stroke-width="2.35" stroke-linejoin="miter"/>
<line x1="370.30" y1="507.60" x2="370.30" y2="511.40" stroke="#231f20" stroke-width="1.5" stroke-linecap="butt"/>
<line x1="409.40" y1="400.60" x2="409.40" y2="419.30" stroke="#231f20" stroke-width="1.7" stroke-linecap="butt"/>
<line x1="403.10" y1="400.60" x2="415.70" y2="400.60" stroke="#231f20" stroke-width="1.6" stroke-linecap="butt"/>
<rect x="396.68" y="418.80" width="25.45" height="89.05" fill="#58595b"/>
<path d="M396.68 508.35V418.80H422.12V508.35" fill="none" stroke="#231f20" stroke-width="2.35" stroke-linejoin="miter"/>
<line x1="409.40" y1="507.60" x2="409.40" y2="511.40" stroke="#231f20" stroke-width="1.5" stroke-linecap="butt"/>
<line x1="269.60" y1="507.60" x2="430.00" y2="507.60" stroke="#231f20" stroke-width="1.5" stroke-linecap="butt"/>
<text x="298.50" y="518.40" font-size="8.8" text-anchor="end" fill="#231f20" transform="rotate(-45 298.50 518.40)">Control</text>
<text x="337.30" y="518.40" font-size="8.8" text-anchor="end" fill="#231f20" transform="rotate(-45 337.30 518.40)">Histamine</text>
<text x="377.10" y="517.40" font-size="8.8" text-anchor="end" fill="#231f20" transform="rotate(-45 377.10 517.40)">JNJ28</text>
<text x="415.50" y="517.90" font-size="8.8" text-anchor="end" fill="#231f20" transform="rotate(-45 415.50 517.90)">VUF8430</text>
</g>
<polygon points="331.20,429.98 331.88,431.94 333.96,431.98 332.30,433.23 332.90,435.22 331.20,434.04 329.50,435.22 330.10,433.23 328.44,431.98 330.52,431.94" fill="#231f20"/>
<polygon points="370.00,398.78 370.68,400.74 372.76,400.78 371.10,402.03 371.70,404.02 370.00,402.84 368.30,404.02 368.90,402.03 367.24,400.78 369.32,400.74" fill="#231f20"/>
<polygon points="409.00,390.98 409.68,392.94 411.76,392.98 410.10,394.23 410.70,396.22 409.00,395.04 407.30,396.22 407.90,394.23 406.24,392.98 408.32,392.94" fill="#231f20"/>
<g transform="translate(0,0.4)">
<text x="444.90" y="369.30" font-size="13.8" text-anchor="start" font-weight="bold" fill="#231f20">g</text>
<line x1="492.40" y1="373.88" x2="492.40" y2="506.83" stroke="#231f20" stroke-width="1.45" stroke-linecap="butt"/>
<line x1="489.00" y1="506.10" x2="492.40" y2="506.10" stroke="#231f20" stroke-width="1.45" stroke-linecap="butt"/>
<text x="484.60" y="508.35" font-size="8.8" text-anchor="end" fill="#231f20">0</text>
<line x1="489.00" y1="462.27" x2="492.40" y2="462.27" stroke="#231f20" stroke-width="1.45" stroke-linecap="butt"/>
<text x="484.60" y="464.72" font-size="8.8" text-anchor="end" fill="#231f20">50</text>
<line x1="489.00" y1="418.43" x2="492.40" y2="418.43" stroke="#231f20" stroke-width="1.45" stroke-linecap="butt"/>
<text x="484.60" y="421.28" font-size="8.8" text-anchor="end" fill="#231f20">100</text>
<line x1="489.00" y1="374.60" x2="492.40" y2="374.60" stroke="#231f20" stroke-width="1.45" stroke-linecap="butt"/>
<text x="484.60" y="377.75" font-size="8.8" text-anchor="end" fill="#231f20">150</text>
<text x="450.80" y="440.00" font-size="8.8" text-anchor="middle" fill="#231f20" transform="rotate(-90 450.80 440.00)">TMRE fluorescence</text>
<text x="461.50" y="440.00" font-size="8.8" text-anchor="middle" fill="#231f20" transform="rotate(-90 461.50 440.00)">(% respect to control)</text>
<line x1="512.20" y1="412.40" x2="512.20" y2="418.50" stroke="#231f20" stroke-width="1.7" stroke-linecap="butt"/>
<line x1="505.90" y1="412.40" x2="518.50" y2="412.40" stroke="#231f20" stroke-width="1.6" stroke-linecap="butt"/>
<rect x="499.18" y="418.00" width="26.05" height="88.35" fill="#fff"/>
<path d="M499.18 506.85V418.00H525.23V506.85" fill="none" stroke="#231f20" stroke-width="2.35" stroke-linejoin="miter"/>
<line x1="512.20" y1="506.10" x2="512.20" y2="509.90" stroke="#231f20" stroke-width="1.5" stroke-linecap="butt"/>
<line x1="552.00" y1="443.00" x2="552.00" y2="448.50" stroke="#231f20" stroke-width="1.7" stroke-linecap="butt"/>
<line x1="545.70" y1="443.00" x2="558.30" y2="443.00" stroke="#231f20" stroke-width="1.6" stroke-linecap="butt"/>
<rect x="538.97" y="448.00" width="26.05" height="58.35" fill="#a7a9ac"/>
<path d="M538.97 506.85V448.00H565.03V506.85" fill="none" stroke="#231f20" stroke-width="2.35" stroke-linejoin="miter"/>
<line x1="552.00" y1="506.10" x2="552.00" y2="509.90" stroke="#231f20" stroke-width="1.5" stroke-linecap="butt"/>
<line x1="591.50" y1="446.60" x2="591.50" y2="448.70" stroke="#231f20" stroke-width="1.7" stroke-linecap="butt"/>
<line x1="585.20" y1="446.60" x2="597.80" y2="446.60" stroke="#231f20" stroke-width="1.6" stroke-linecap="butt"/>
<rect x="578.47" y="449.38" width="26.05" height="56.98" fill="#231f20"/>
<path d="M578.47 506.85V449.38H604.53V506.85" fill="none" stroke="#231f20" stroke-width="2.35" stroke-linejoin="miter"/>
<line x1="591.50" y1="506.10" x2="591.50" y2="509.90" stroke="#231f20" stroke-width="1.5" stroke-linecap="butt"/>
<line x1="631.30" y1="451.40" x2="631.30" y2="453.70" stroke="#231f20" stroke-width="1.7" stroke-linecap="butt"/>
<line x1="625.00" y1="451.40" x2="637.60" y2="451.40" stroke="#231f20" stroke-width="1.6" stroke-linecap="butt"/>
<rect x="618.27" y="453.20" width="26.05" height="53.15" fill="url(#dia)"/>
<path d="M618.27 506.85V453.20H644.33V506.85" fill="none" stroke="#231f20" stroke-width="2.35" stroke-linejoin="miter"/>
<line x1="631.30" y1="506.10" x2="631.30" y2="509.90" stroke="#231f20" stroke-width="1.5" stroke-linecap="butt"/>
<line x1="489.00" y1="506.10" x2="651.80" y2="506.10" stroke="#231f20" stroke-width="1.5" stroke-linecap="butt"/>
<text x="517.80" y="516.90" font-size="8.8" text-anchor="end" fill="#231f20" transform="rotate(-45 517.80 516.90)">Control</text>
<text x="557.60" y="516.90" font-size="8.8" text-anchor="end" fill="#231f20" transform="rotate(-45 557.60 516.90)">Histamine</text>
<text x="598.30" y="515.90" font-size="8.8" text-anchor="end" fill="#231f20" transform="rotate(-45 598.30 515.90)">JNJ28</text>
<text x="637.30" y="516.50" font-size="8.8" text-anchor="end" fill="#231f20" transform="rotate(-45 637.30 516.50)">CCCP</text>
</g>
<polygon points="551.40,433.78 552.08,435.74 554.16,435.78 552.50,437.03 553.10,439.02 551.40,437.84 549.70,439.02 550.30,437.03 548.64,435.78 550.72,435.74" fill="#231f20"/>
<polygon points="591.00,438.38 591.68,440.34 593.76,440.38 592.10,441.63 592.70,443.62 591.00,442.44 589.30,443.62 589.90,441.63 588.24,440.38 590.32,440.34" fill="#231f20"/>
<polygon points="630.40,439.38 631.08,441.34 633.16,441.38 631.50,442.63 632.10,444.62 630.40,443.44 628.70,444.62 629.30,442.63 627.64,441.38 629.72,441.34" fill="#231f20"/>
<text x="47.60" y="572.40" font-size="13.8" text-anchor="start" font-weight="bold" fill="#231f20">h</text>
<line x1="89.70" y1="577.48" x2="89.70" y2="719.83" stroke="#231f20" stroke-width="1.45" stroke-linecap="butt"/>
<line x1="86.30" y1="719.10" x2="89.70" y2="719.10" stroke="#231f20" stroke-width="1.45" stroke-linecap="butt"/>
<text x="81.80" y="722.25" font-size="8.8" text-anchor="end" fill="#231f20">0</text>
<line x1="86.30" y1="672.13" x2="89.70" y2="672.13" stroke="#231f20" stroke-width="1.45" stroke-linecap="butt"/>
<text x="81.80" y="675.28" font-size="8.8" text-anchor="end" fill="#231f20">5</text>
<line x1="86.30" y1="625.17" x2="89.70" y2="625.17" stroke="#231f20" stroke-width="1.45" stroke-linecap="butt"/>
<text x="81.80" y="628.32" font-size="8.8" text-anchor="end" fill="#231f20">10</text>
<line x1="86.30" y1="578.20" x2="89.70" y2="578.20" stroke="#231f20" stroke-width="1.45" stroke-linecap="butt"/>
<text x="81.80" y="581.35" font-size="8.8" text-anchor="end" fill="#231f20">15</text>
<text x="54.00" y="648.50" font-size="8.8" text-anchor="middle" fill="#231f20" transform="rotate(-90 54.00 648.50)">Cytokines</text>
<text x="65.00" y="648.50" font-size="8.8" text-anchor="middle" fill="#231f20" transform="rotate(-90 65.00 648.50)">(pg/mL)</text>
<line x1="171.00" y1="585.00" x2="171.00" y2="595.60" stroke="#231f20" stroke-width="1.6" stroke-linecap="butt"/>
<line x1="166.30" y1="585.00" x2="175.70" y2="585.00" stroke="#231f20" stroke-width="1.75" stroke-linecap="butt"/>
<rect x="161.25" y="596.45" width="19.50" height="122.90" fill="#231f20"/>
<path d="M161.25 719.85V596.45H180.75V719.85" fill="none" stroke="#231f20" stroke-width="1.7" stroke-linejoin="miter"/>
<line x1="218.55" y1="603.00" x2="218.55" y2="627.00" stroke="#231f20" stroke-width="1.6" stroke-linecap="butt"/>
<line x1="213.85" y1="603.00" x2="223.25" y2="603.00" stroke="#231f20" stroke-width="1.75" stroke-linecap="butt"/>
<rect x="208.85" y="627.00" width="19.40" height="92.35" fill="#fff"/>
<path d="M208.85 719.85V627.00H228.25V719.85" fill="none" stroke="#231f20" stroke-width="1.7" stroke-linejoin="miter"/>
<line x1="247.35" y1="637.00" x2="247.35" y2="651.00" stroke="#231f20" stroke-width="1.6" stroke-linecap="butt"/>
<line x1="242.65" y1="637.00" x2="252.05" y2="637.00" stroke="#231f20" stroke-width="1.75" stroke-linecap="butt"/>
<rect x="237.55" y="651.00" width="19.60" height="68.35" fill="#a7a9ac"/>
<path d="M237.55 719.85V651.00H257.15V719.85" fill="none" stroke="#231f20" stroke-width="1.7" stroke-linejoin="miter"/>
<line x1="276.00" y1="628.20" x2="276.00" y2="651.00" stroke="#231f20" stroke-width="1.6" stroke-linecap="butt"/>
<line x1="271.30" y1="628.20" x2="280.70" y2="628.20" stroke="#231f20" stroke-width="1.75" stroke-linecap="butt"/>
<rect x="266.05" y="651.85" width="19.90" height="67.50" fill="#231f20"/>
<path d="M266.05 719.85V651.85H285.95V719.85" fill="none" stroke="#231f20" stroke-width="1.7" stroke-linejoin="miter"/>
<line x1="86.30" y1="719.10" x2="301.00" y2="719.10" stroke="#231f20" stroke-width="1.5" stroke-linecap="butt"/>
<line x1="142.30" y1="719.10" x2="142.30" y2="723.10" stroke="#231f20" stroke-width="1.3" stroke-linecap="butt"/>
<line x1="247.60" y1="719.10" x2="247.60" y2="723.10" stroke="#231f20" stroke-width="1.3" stroke-linecap="butt"/>
<polygon points="170.20,568.53 170.76,570.15 172.48,570.19 171.11,571.22 171.61,572.87 170.20,571.89 168.79,572.87 169.29,571.22 167.92,570.19 169.64,570.15" fill="#231f20"/>
<text x="118.70" y="712.90" font-size="8.6" text-anchor="middle" fill="#231f20" style="stroke-width:0.08px">ND</text>
<text x="141.30" y="712.90" font-size="8.6" text-anchor="middle" fill="#231f20" style="stroke-width:0.08px">ND</text>
<text x="141.80" y="733.40" font-size="8.8" text-anchor="middle" fill="#231f20">IL-10</text>
<text x="248.00" y="733.40" font-size="8.8" text-anchor="middle" fill="#231f20">TNFα</text>
<rect x="292.65" y="583.85" width="15.70" height="7.70" fill="#fff" stroke="#231f20" stroke-width="1.7"/>
<text x="313.00" y="590.50" font-size="7.2" text-anchor="start" fill="#231f20">Control</text>
<rect x="292.65" y="602.85" width="15.70" height="7.70" fill="#a7a9ac" stroke="#231f20" stroke-width="1.7"/>
<text x="313.00" y="609.90" font-size="7.2" text-anchor="start" fill="#231f20">Histamine</text>
<rect x="292.65" y="623.25" width="15.70" height="7.50" fill="#231f20" stroke="#231f20" stroke-width="1.7"/>
<text x="313.00" y="629.20" font-size="7.2" text-anchor="start" fill="#231f20">JNJ28</text>
</svg>
</body>
</html>
